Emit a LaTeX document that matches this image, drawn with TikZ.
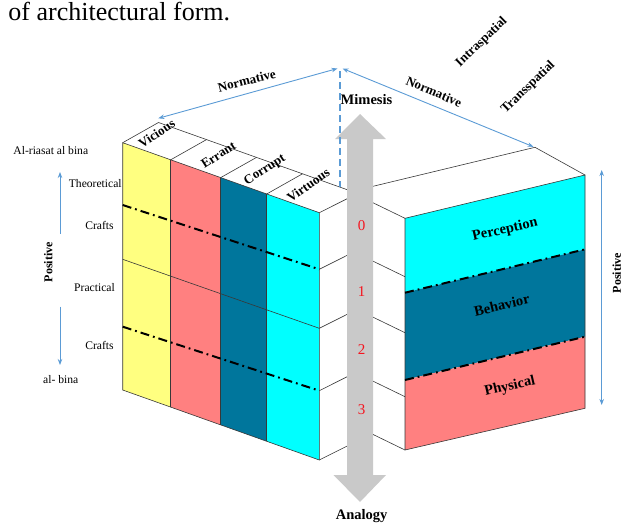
\documentclass[tikz,border=0pt]{standalone}
\usepackage{fontspec}
\setmainfont{Liberation Serif}
\usetikzlibrary{arrows.meta}
\definecolor{cyell}{HTML}{FFFF80}
\definecolor{csalm}{HTML}{FF8080}
\definecolor{cteal}{HTML}{00769C}
\definecolor{ccyan}{HTML}{00FFFF}
\definecolor{cgray}{HTML}{C9C9C9}
\definecolor{cblue}{HTML}{5B9BD5}
\definecolor{cnum}{HTML}{F5141E}
\tikzset{
  edge/.style={draw=black!78, line width=0.6pt},
  ddash/.style={draw=black, line width=2pt, dash pattern=on 9pt off 4pt on 1.8pt off 4pt},
  barrow/.style={draw=cblue, line width=0.9pt, {Stealth[length=6pt,width=4.5pt]}-{Stealth[length=6pt,width=4.5pt]}},
  bdash/.style={draw=cblue, line width=2pt, dash pattern=on 7pt off 4pt},
  lbl/.style={font=\fontsize{11.6}{13}\selectfont, inner sep=0pt},
  blab/.style={font=\bfseries\fontsize{13}{15}\selectfont, inner sep=0pt},
  big/.style={font=\bfseries\fontsize{14.5}{16}\selectfont, inner sep=0pt},
  num/.style={font=\fontsize{15}{17}\selectfont, text=cnum, inner sep=0pt}
}
\begin{document}
\begin{tikzpicture}[x=1pt,y=-1pt]
\useasboundingbox (0,0) rectangle (625,523);

% title
\node[anchor=base west, font=\fontsize{26}{30}\selectfont, inner sep=0pt] (title) at (8.3,20.7) {of architectural form.};

% ---------- left block: front face columns ----------
\fill[cyell] (122.7,142.7) -- (170.7,159.8) -- (170.7,407.1) -- (122.7,390) -- cycle;
\fill[csalm] (170.7,159.8) -- (220.7,177.6) -- (220.7,424.9) -- (170.7,407.1) -- cycle;
\fill[cteal] (220.7,177.6) -- (266.7,194.0) -- (266.7,441.3) -- (220.7,424.9) -- cycle;
\fill[ccyan] (266.7,194.0) -- (319.3,212.7) -- (319.3,460.0) -- (266.7,441.3) -- cycle;
\draw[edge] (122.7,142.7) -- (319.3,212.7) -- (319.3,460.0) -- (122.7,390) -- cycle;
\draw[edge] (170.7,159.8) -- (170.7,407.1);
\draw[edge] (220.7,177.6) -- (220.7,424.9);
\draw[edge] (266.7,194.0) -- (266.7,441.3);
\draw[edge] (122.7,259.3) -- (319.3,328.3);
\draw[ddash] (122.7,205) -- (319.3,269.3);
\draw[ddash] (122.7,326.7) -- (319.3,390.7);

% top face of left block
\draw[edge] (122.7,142.7) -- (158.5,122.5) -- (350,190.7);
\draw[edge] (170.7,159.8) -- ++(35.8,-20.2);
\draw[edge] (220.7,177.6) -- ++(35.8,-20.2);
\draw[edge] (266.7,194.0) -- ++(35.8,-20.2);

% side lines of left block
\foreach \yy in {212.7,269.3,328.3,390.7,460.0}
  \draw[edge] (319.3,\yy) -- ++(30.7,-15.4);

% ---------- right block ----------
\fill[ccyan] (405,218.3) -- (585,175) -- (585,249.3) -- (405,292.7) -- cycle;
\fill[cteal] (405,292.7) -- (585,249.3) -- (585,336.7) -- (405,380) -- cycle;
\fill[csalm] (405,380) -- (585,336.7) -- (585,408.3) -- (405,450) -- cycle;
\draw[edge] (405,218.3) -- (585,175) -- (585,408.3) -- (405,450) -- cycle;
\draw[ddash] (405,292.7) -- (585,249.3);
\draw[ddash] (405,380) -- (585,336.7);
% top face
\draw[edge] (585,175) -- (535,147.3) -- (368,187.5);
% side lines
\foreach \yy in {218.3,276.7,332.7,396.7,450}
  \draw[edge] (405,\yy) -- ++(-36,-17.5);

% ---------- central grey arrow ----------
\fill[cgray] (360,114) -- (386,139) -- (373,139) -- (373,475) -- (386,475) -- (360,502)
  -- (333.5,475) -- (347,475) -- (347,139) -- (335,139) -- cycle;
\node[num] (n0) at (361.7,226) {0};
\node[num] (n1) at (361.7,291.7) {1};
\node[num] (n2) at (361.7,349.3) {2};
\node[num] (n3) at (361.7,409.3) {3};
\node[big] (mim) at (366.5,100) {Mimesis};
\node[big] (ana) at (361.7,516.5) {Analogy};

% ---------- blue arrows ----------
\coordinate (apexL) at (337.5,68.5);
\coordinate (apexR) at (342.5,68.5);
\coordinate (tl) at (158.3,118.3);
\coordinate (tr) at (533.5,146.8);
\draw[barrow] (tl) -- (apexL);
\draw[barrow] (apexR) -- (tr);
\coordinate (dtop) at (340,71);
\coordinate (dbot) at (340,187);
\draw[bdash] (dtop) -- (dbot);

\coordinate (pl1) at (60,172);
\coordinate (pl2) at (60,233.5);
\coordinate (pl3) at (60,306.5);
\coordinate (pl4) at (60,365);
\draw[draw=cblue, line width=0.9pt, {Stealth[length=6pt,width=4.5pt]}-] (pl1) -- (pl2);
\draw[draw=cblue, line width=0.9pt, -{Stealth[length=6pt,width=4.5pt]}] (pl3) -- (pl4);
\coordinate (pr1) at (601.7,170);
\coordinate (pr2) at (601.7,405);
\draw[barrow] (pr1) -- (pr2);

% ---------- labels ----------
\node[blab, rotate=14] (normL) at (246.7,80.7) {Normative};
\node[blab, rotate=-23] (normR) at (434,91.7) {Normative};
\node[blab, rotate=44] (intra) at (481.7,42.3) {Intraspatial};
\node[blab, rotate=44] (trans) at (528.3,87.3) {Transspatial};

\node[blab, rotate=33] (vic) at (156.7,133.3) {Vicious};
\node[blab, rotate=33] (err) at (218.3,155) {Errant};
\node[blab, rotate=33] (cor) at (265,170) {Corrupt};
\node[blab, rotate=35] (vir) at (308.3,185) {Virtuous};

\node[lbl] (riasat) at (50.8,150.7) {Al-riasat al bina};
\node[lbl] (theo) at (95.3,183.3) {Theoretical};
\node[lbl] (craft1) at (99.5,225.7) {Crafts};
\node[lbl] (prac) at (94.5,287.3) {Practical};
\node[lbl] (craft2) at (99.5,345) {Crafts};
\node[lbl] (bina) at (60.8,379.3) {al- bina};
\node[blab, font=\bfseries\fontsize{12}{14}\selectfont, rotate=90] (posL) at (48.3,262.3) {Positive};
\node[blab, font=\bfseries\fontsize{12}{14}\selectfont, rotate=90] (posR) at (616.7,273.3) {Positive};

\node[big, rotate=13] (perc) at (505,230) {Perception};
\node[big, rotate=13] (beh) at (501.7,305) {Behavior};
\node[big, rotate=13] (phys) at (510,386.7) {Physical};
\end{tikzpicture}
\end{document}
